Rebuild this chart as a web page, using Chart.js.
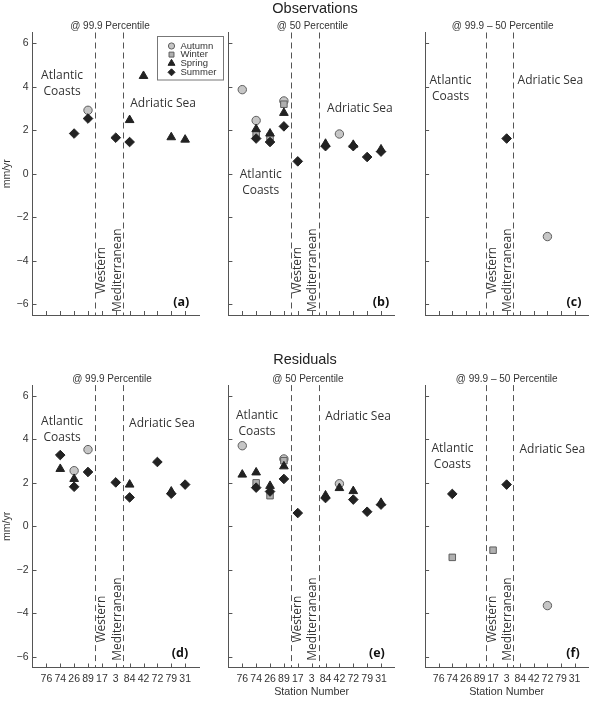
<!DOCTYPE html>
<html><head><meta charset="utf-8">
<script src="https://cdn.jsdelivr.net/npm/chart.js@4.4.1/dist/chart.umd.min.js"></script>
<style>
html,body{margin:0;padding:0;background:#fff;}
#wrap{position:relative;width:594px;height:706px;overflow:hidden;background:#fff;}
#wrap canvas{position:absolute;left:0;top:0;}
</style></head><body><div id="wrap"></div>
<script>
// ---------- data ----------
const stations = ['76','74','26','89','17','3','84','42','72','79','31'];
const yTicks = [-6, -4, -2, 0, 2, 4, 6];
const dividers = [4.5, 6.5];
const seasons = ['Autumn', 'Winter', 'Spring', 'Summer'];
const n = null;

// Observations @ 99.9 percentile
const obs999Autumn = [n, n, n, 2.92, n, n, n, n, n, n, n];
const obs999Winter = [n, n, n, n, n, n, n, n, n, n, n];
const obs999Spring = [n, n, n, n, n, n, 2.47, 4.5, n, 1.68, 1.57];
const obs999Summer = [n, n, 1.85, 2.54, n, 1.66, 1.46, n, n, n, n];
// Observations @ 50 percentile
const obs50Autumn = [3.87, 2.45, n, 3.35, n, n, n, 1.83, n, n, n];
const obs50Winter = [n, 1.85, 1.7, 3.2, n, n, n, n, n, n, n];
const obs50Spring = [n, 2.05, 1.85, 2.8, n, n, 1.38, n, 1.33, n, 1.12];
const obs50Summer = [n, 1.62, 1.46, 2.18, 0.57, n, 1.27, n, 1.27, 0.77, 1.02];
// Observations @ 99.9 - 50 percentile
const obsDiffAutumn = [n, n, n, n, n, n, n, n, -2.89, n, n];
const obsDiffWinter = [n, n, n, n, n, n, n, n, n, n, n];
const obsDiffSpring = [n, n, n, n, n, n, n, n, n, n, n];
const obsDiffSummer = [n, n, n, n, n, 1.62, n, n, n, n, n];
// Residuals @ 99.9 percentile
const res999Autumn = [n, n, 2.56, 3.53, n, n, n, n, n, n, n];
const res999Winter = [n, n, n, n, n, n, n, n, n, n, n];
const res999Spring = [n, 2.64, 2.18, n, n, n, 1.92, n, n, 1.6, n];
const res999Summer = [n, 3.28, 1.82, 2.5, n, 2.02, 1.33, n, 2.96, 1.5, 1.92];
// Residuals @ 50 percentile
const res50Autumn = [3.71, n, n, 3.1, n, n, n, 1.96, n, n, n];
const res50Winter = [n, 2.0, 1.41, 3.02, n, n, n, n, n, n, n];
const res50Spring = [2.38, 2.48, 1.86, 2.76, n, n, 1.42, 1.76, 1.62, n, 1.08];
const res50Summer = [n, 1.78, 1.6, 2.18, 0.61, n, 1.3, n, 1.23, 0.67, 1.0];
// Residuals @ 99.9 - 50 percentile
const resDiffAutumn = [n, n, n, n, n, n, n, n, -3.65, n, n];
const resDiffWinter = [n, -1.43, n, n, -1.1, n, n, n, n, n, n];
const resDiffSpring = [n, n, n, n, n, n, n, n, n, n, n];
const resDiffSummer = [n, 1.49, n, n, n, 1.92, n, n, n, n, n];

// ---------- styles / layout ----------
const TICK_FONT = '"Liberation Sans", Arial, Helvetica, sans-serif';
const LABEL_FONT = '"Open Sans", "Noto Sans", sans-serif';
const AXIS_COLOR = '#555';
const mark = {
  Autumn: { pointStyle: 'circle',   radius: 4.2, bg: '#c6c6c6', bd: '#5e5e5e', bw: 1, order: 3 },
  Winter: { pointStyle: 'rect',     radius: 4.6, bg: '#b0b0b0', bd: '#5e5e5e', bw: 1, order: 2 },
  Spring: { pointStyle: 'triangle', radius: 5.0, bg: '#222',    bd: '#222',    bw: 1, order: 1 },
  Summer: { pointStyle: 'rectRot',  radius: 4.8, bg: '#222',    bd: '#222',    bw: 1, order: 0 }
};
const colLeft = [32.5, 228.4, 425.1];
const plotW = 166.5;
const rowTop = [32.5, 385.1];
const rowBottom = [315, 667.5];
const Y_AXIS_W = 30;
const X_AXIS_H = 30;

const panels = [
  { row: 0, col: 0, series: [obs999Autumn, obs999Winter, obs999Spring, obs999Summer], sub: '@ 99.9 Percentile', subX: 110, tag: '(a)', tagX: 10.72,
    atl: [2.13, 4.5], adr: [9.41, 3.25], legend: true, ylab: true },
  { row: 0, col: 1, series: [obs50Autumn, obs50Winter, obs50Spring, obs50Summer], sub: '@ 50 Percentile', subX: 312.5, tag: '(b)', tagX: 11.0,
    atl: [2.33, -0.06], adr: [9.48, 2.98], title: 'Observations', titleX: 315, titleY: 12.5 },
  { row: 0, col: 2, series: [obsDiffAutumn, obsDiffWinter, obsDiffSpring, obsDiffSummer], sub: '@ 99.9 \u2013 50 Percentile', subX: 502.7, tag: '(c)', tagX: 10.95,
    atl: [1.87, 4.27], adr: [9.22, 4.27] },
  { row: 1, col: 0, series: [res999Autumn, res999Winter, res999Spring, res999Summer], sub: '@ 99.9 Percentile', subX: 112, tag: '(d)', tagX: 10.63,
    atl: [2.13, 4.82], adr: [9.33, 4.71], ylab: true },
  { row: 1, col: 1, series: [res50Autumn, res50Winter, res50Spring, res50Summer], sub: '@ 50 Percentile', subX: 308, tag: '(e)', tagX: 10.7,
    atl: [2.06, 5.08], adr: [9.34, 5.03], title: 'Residuals', titleX: 305, titleY: 363.5, xname: true },
  { row: 1, col: 2, series: [resDiffAutumn, resDiffWinter, resDiffSpring, resDiffSummer], sub: '@ 99.9 \u2013 50 Percentile', subX: 506.7, tag: '(f)', tagX: 10.88,
    atl: [2.01, 3.57], adr: [9.36, 3.55], xname: true }
];
const subY = [29, 382];
const westY = [-4.44, -4.27];
const tagY = [-5.91, -5.83];

function toPoints(arr) {
  return arr.map((v, i) => (v == null ? null : { x: i + 1, y: v })).filter(p => p);
}

function drawMarker(ctx, style, r, x, y) {
  ctx.beginPath();
  if (style === 'circle') { ctx.arc(x, y, r, 0, Math.PI * 2); }
  else if (style === 'rect') { const s = r * Math.SQRT1_2; ctx.rect(x - s, y - s, 2 * s, 2 * s); }
  else if (style === 'triangle') {
    ctx.moveTo(x, y - r); ctx.lineTo(x + r * 0.866, y + r * 0.5); ctx.lineTo(x - r * 0.866, y + r * 0.5); ctx.closePath();
  } else { ctx.moveTo(x, y - r); ctx.lineTo(x + r, y); ctx.lineTo(x, y + r); ctx.lineTo(x - r, y); ctx.closePath(); }
  ctx.fill(); ctx.stroke();
}

const decor = {
  id: 'decor',
  beforeDatasetsDraw(chart, args, o) {
    const { ctx, chartArea: ca, scales: { x } } = chart;
    ctx.save();
    ctx.strokeStyle = '#555'; ctx.lineWidth = 1; ctx.setLineDash([6, 4]);
    for (const d of dividers) {
      const px = Math.round(x.getPixelForValue(d)) + 0.5;
      ctx.beginPath(); ctx.moveTo(px, ca.top); ctx.lineTo(px, ca.bottom); ctx.stroke();
    }
    ctx.restore();
  },
  afterDraw(chart, args, o) {
    const p = o.panel;
    const { ctx, chartArea: ca, scales: { x, y } } = chart;
    ctx.save();
    // inward tick marks
    ctx.strokeStyle = AXIS_COLOR; ctx.lineWidth = 1;
    ctx.beginPath();
    stations.forEach((s, i) => {
      const px = Math.round(x.getPixelForValue(i + 1)) + 0.5;
      ctx.moveTo(px, ca.bottom); ctx.lineTo(px, ca.bottom - 4);
    });
    yTicks.forEach(v => {
      const py = Math.round(y.getPixelForValue(v)) + 0.5;
      ctx.moveTo(ca.left, py); ctx.lineTo(ca.left + 4, py);
    });
    ctx.stroke();

    // region labels
    ctx.fillStyle = '#333';
    ctx.font = '12px ' + LABEL_FONT;
    ctx.textAlign = 'center'; ctx.textBaseline = 'middle';
    const ax = x.getPixelForValue(p.atl[0]), ay = y.getPixelForValue(p.atl[1]);
    ctx.fillText('Atlantic', ax, ay);
    ctx.fillText('Coasts', ax, ay + 16);
    ctx.fillText('Adriatic Sea', x.getPixelForValue(p.adr[0]), y.getPixelForValue(p.adr[1]));
    // rotated sea labels
    const wy = y.getPixelForValue(westY[p.row]);
    [['Western', 4.97], ['Mediterranean', 6.1]].forEach(([t, xv]) => {
      ctx.save();
      ctx.translate(x.getPixelForValue(xv), wy);
      ctx.rotate(-Math.PI / 2);
      ctx.fillText(t, 0, 0);
      ctx.restore();
    });
    // panel tag
    ctx.fillStyle = '#111';
    ctx.font = 'bold 12.5px ' + LABEL_FONT;
    ctx.fillText(p.tag, x.getPixelForValue(p.tagX), y.getPixelForValue(tagY[p.row]));

    // subtitle
    ctx.fillStyle = '#333';
    ctx.font = '10px ' + TICK_FONT;
    ctx.textBaseline = 'alphabetic';
    ctx.fillText(p.sub, p.subX, subY[p.row]);
    // main title
    if (p.title) {
      ctx.fillStyle = '#222';
      ctx.font = '14.5px ' + TICK_FONT;
      ctx.fillText(p.title, p.titleX, p.titleY);
    }
    if (p.xname) {
      ctx.fillStyle = '#333';
      ctx.font = '10.8px ' + TICK_FONT;
      ctx.fillText('Station Number', (ca.left + ca.right) / 2, 694.5);
    }
    if (p.ylab) {
      ctx.save();
      ctx.fillStyle = '#333';
      ctx.font = '10.5px ' + TICK_FONT;
      ctx.textBaseline = 'middle';
      ctx.translate(7.5, y.getPixelForValue(0));
      ctx.rotate(-Math.PI / 2);
      ctx.fillText('mm/yr', 0, 0);
      ctx.restore();
    }
    // legend
    if (p.legend) {
      ctx.strokeStyle = '#777'; ctx.lineWidth = 1; ctx.setLineDash([]);
      ctx.strokeRect(157.5, 36.5, 66, 43.5);
      const rowsY = [46, 54.6, 63.3, 72.3];
      const lr = { Autumn: 3.1, Winter: 3.5, Spring: 4.0, Summer: 3.5 };
      seasons.forEach((s, i) => {
        const m = mark[s];
        ctx.fillStyle = m.bg; ctx.strokeStyle = m.bd; ctx.lineWidth = 1;
        drawMarker(ctx, m.pointStyle, lr[s], 171.5, rowsY[i]);
        ctx.fillStyle = '#333';
        ctx.font = '9.5px ' + TICK_FONT;
        ctx.textAlign = 'left'; ctx.textBaseline = 'middle';
        ctx.fillText(s, 180.5, rowsY[i]);
      });
    }
    ctx.restore();
  }
};

const wrap = document.getElementById('wrap');
panels.forEach(p => {
  const cv = document.createElement('canvas');
  cv.width = 594; cv.height = 706;
  cv.style.width = '594px'; cv.style.height = '706px';
  wrap.appendChild(cv);
  const L = colLeft[p.col], T = rowTop[p.row], B = rowBottom[p.row];
  const datasets = seasons.map((s, k) => ({
    label: s,
    data: toPoints(p.series[k]),
    pointStyle: mark[s].pointStyle,
    pointRadius: mark[s].radius,
    pointHoverRadius: mark[s].radius,
    backgroundColor: mark[s].bg,
    borderColor: mark[s].bd,
    borderWidth: mark[s].bw,
    order: mark[s].order,
    showLine: false
  }));
  new Chart(cv, {
    type: 'scatter',
    data: { datasets },
    options: {
      responsive: false, animation: false, devicePixelRatio: 1, events: [],
      layout: { padding: { left: L - Y_AXIS_W, right: 594 - L - plotW, top: T, bottom: 706 - B - X_AXIS_H } },
      plugins: { legend: { display: false }, tooltip: { enabled: false }, title: { display: false },
                 decor: { panel: p } },
      scales: {
        x: {
          type: 'linear', min: 0, max: 12,
          afterBuildTicks: s => { s.ticks = stations.map((_, i) => ({ value: i + 1 })); },
          afterFit: s => { s.height = X_AXIS_H; },
          grid: { display: false, drawTicks: false },
          border: { display: true, color: AXIS_COLOR, width: 1 },
          ticks: { display: p.row === 1, autoSkip: false, maxRotation: 0, minRotation: 0, padding: 5,
                   color: '#333', font: { family: TICK_FONT, size: 10.5 },
                   callback: v => stations[Math.round(v) - 1] }
        },
        y: {
          type: 'linear', min: -6.5, max: 6.5,
          afterBuildTicks: s => { s.ticks = yTicks.map(v => ({ value: v })); },
          afterFit: s => { s.width = Y_AXIS_W; },
          grid: { display: false, drawTicks: false },
          border: { display: true, color: AXIS_COLOR, width: 1 },
          ticks: { display: !!p.ylab, padding: 4, color: '#333', font: { family: TICK_FONT, size: 10.5 },
                   callback: v => (v < 0 ? '\u2212' + Math.abs(v) : String(v)) }
        }
      }
    },
    plugins: [decor]
  });
});
</script>
</body></html>
